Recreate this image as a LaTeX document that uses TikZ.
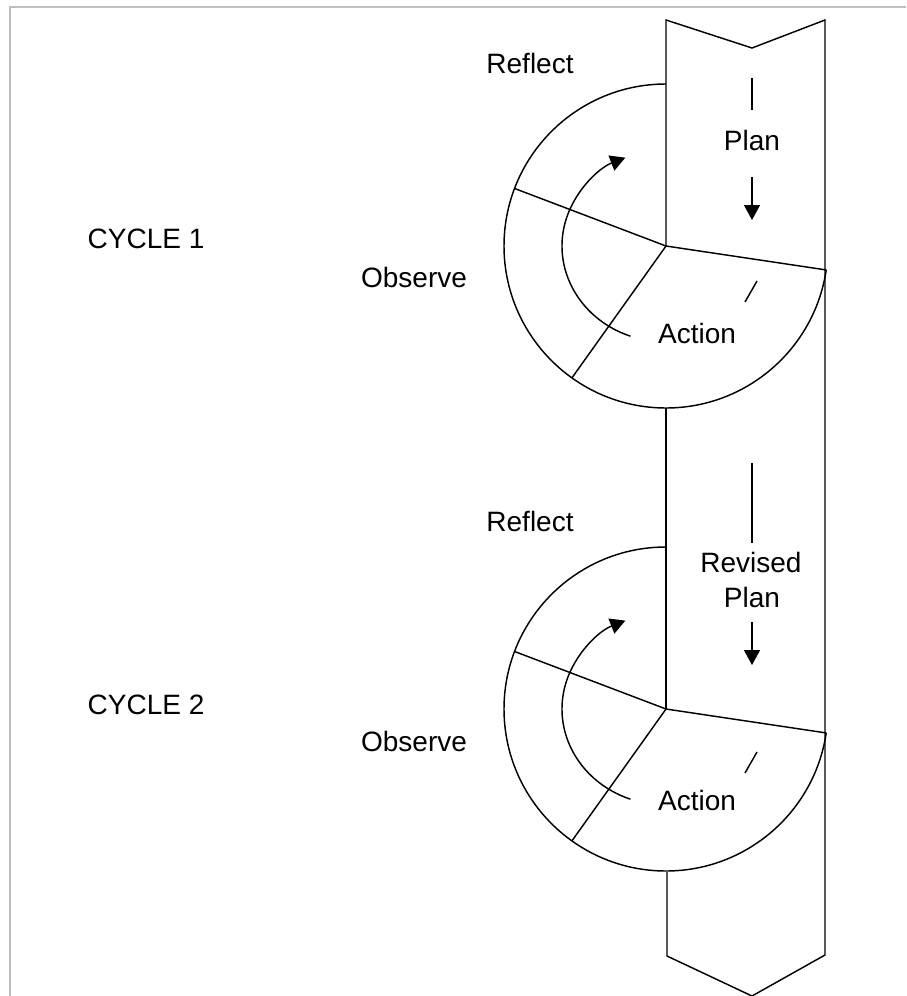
\documentclass[tikz,border=0pt]{standalone}
\usepackage{fontspec}
\setmainfont{Liberation Sans}
\usetikzlibrary{arrows.meta,calc}
\begin{document}
\begin{tikzpicture}[x=1pt,y=1pt,
  ln/.style={line width=1.45pt, line join=miter},
  frame/.style={draw=black!25, line width=2pt},
  lbl/.style={font=\fontsize{28}{33}\selectfont, anchor=base, inner sep=0pt},
  tip/.style={-{Triangle[length=15pt,width=16pt]}}]
\useasboundingbox (0,0) rectangle (906,-996);
\fill[white] (0,0) rectangle (906,-996);
% outer frame (top and left edges)
\draw[frame] (10,-996) -- (10,-7) -- (906,-7);

% centres of the two cycles
\coordinate (c1) at (666,-246);
\coordinate (c2) at (666,-709);

% the vertical band with notched top and pointed bottom
\draw[ln] (c1) -- (666,-20) -- (752,-48) -- (825,-20) -- (825,-955)
  -- (752,-996) -- (667,-956) -- (667,-872);
\draw[ln] (666,-408) -- (c2);

% cycle discs: outer arc and the three dividing radii
\foreach \c in {c1,c2}{
  \draw[ln] ($(\c)+(0,162)$) arc[start angle=90, end angle=351.5, radius=162];
  \draw[ln] (\c) -- ++(159.2:162);
  \draw[ln] (\c) -- ++(234.5:162);
  \draw[ln] (\c) -- ++(351.5:162);
  % circulating arrow
  \draw[ln, tip] ($(\c)+(250:104 and 96)$)
    arc[start angle=250, end angle=113, x radius=104, y radius=96];
}

% plan arrows inside the band
\draw[ln] (752,-78) -- (752,-110);
\draw[ln, tip] (752,-177) -- (752,-220);
\draw[ln] (757,-281) -- (745,-302);
\draw[ln] (752,-463) -- (752,-543);
\draw[ln, tip] (752,-622) -- (752,-665);
\draw[ln] (757,-752) -- (745,-773);

% labels
\node[lbl] (reflect1) at (530,-73) {Reflect};
\node[lbl] (plan1) at (752,-150) {Plan};
\node[lbl] (cycle1) at (146,-248) {CYCLE 1};
\node[lbl] (observe1) at (414,-287) {Observe};
\node[lbl] (action1) at (697,-343) {Action};

\node[lbl] (reflect2) at (530,-531) {Reflect};
\node[lbl] (revised) at (751,-572) {Revised};
\node[lbl] (plan2) at (752,-607) {Plan};
\node[lbl] (cycle2) at (146,-714) {CYCLE 2};
\node[lbl] (observe2) at (414,-751) {Observe};
\node[lbl] (action2) at (697,-810) {Action};
\end{tikzpicture}
\end{document}
